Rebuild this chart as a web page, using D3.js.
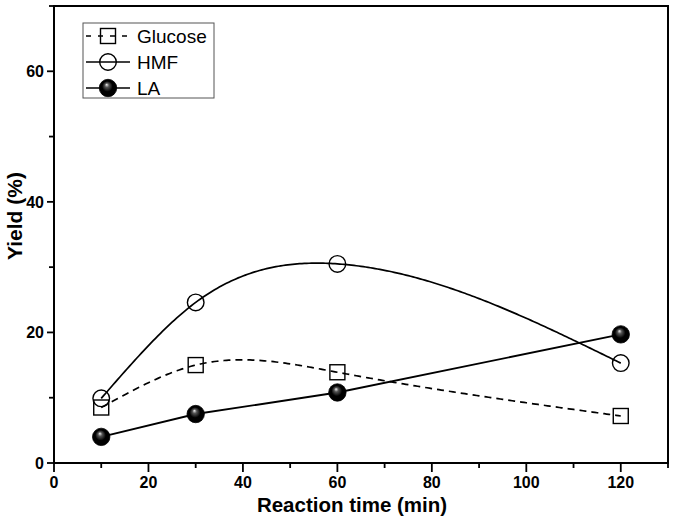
<!DOCTYPE html>
<html><head><meta charset="utf-8">
<script src="https://cdn.jsdelivr.net/npm/d3@7"></script>
<style>body{margin:0;background:#fff}svg{display:block}text{font-family:"Liberation Sans",Arial,sans-serif}</style>
</head><body><svg id="c" width="675" height="521"></svg>
<script>
const times = [10, 30, 60, 120];
const glucose = [8.5, 15.0, 13.9, 7.2];
const hmf = [9.9, 24.6, 30.5, 15.3];
const la = [4.0, 7.5, 10.8, 19.7];
const xTicks = [0, 20, 40, 60, 80, 100, 120];
const yTicks = [0, 20, 40, 60];
const seriesNames = ["Glucose", "HMF", "LA"];

const svg = d3.select("#c");
const x = d3.scaleLinear().domain([0, 130]).range([54, 668]);
const y = d3.scaleLinear().domain([0, 70]).range([463, 6]);

const defs = svg.append("defs");
const g = defs.append("radialGradient").attr("id","sph").attr("cx","0.5").attr("cy","0.5").attr("r","0.55").attr("fx","0.42").attr("fy","0.3");
g.append("stop").attr("offset","0").attr("stop-color","#eee");
g.append("stop").attr("offset","0.22").attr("stop-color","#555");
g.append("stop").attr("offset","0.55").attr("stop-color","#000");
g.append("stop").attr("offset","1").attr("stop-color","#000");

// frame
svg.append("rect").attr("x", x(0)).attr("y", y(70)).attr("width", x(130)-x(0)).attr("height", y(0)-y(70))
  .attr("fill","none").attr("stroke","#000").attr("stroke-width",2);

// x axis ticks
d3.range(0, 131, 10).forEach(v => {
  const major = v % 20 === 0;
  svg.append("line").attr("x1", x(v)).attr("x2", x(v)).attr("y1", y(0)).attr("y2", y(0) + (major ? 9 : 5)).attr("stroke","#000").attr("stroke-width",1.8);
});
xTicks.forEach(v => svg.append("text").attr("x", x(v)).attr("y", 488).attr("text-anchor","middle")
  .attr("font-size",16).attr("font-weight","bold").text(v));
svg.append("text").attr("x", 352).attr("y", 512).attr("text-anchor","middle").attr("font-size",20.5).attr("font-weight","bold").text("Reaction time (min)");

// y axis ticks
d3.range(0, 71, 10).forEach(v => {
  const major = v % 20 === 0;
  svg.append("line").attr("x1", x(0)).attr("x2", x(0) - (major ? 7 : 5)).attr("y1", y(v)).attr("y2", y(v)).attr("stroke","#000").attr("stroke-width",1.8);
});
yTicks.forEach(v => svg.append("text").attr("x", x(0)-10).attr("y", y(v)+6).attr("text-anchor","end")
  .attr("font-size",16).attr("font-weight","bold").text(v));
svg.append("text").attr("transform","translate(22,216) rotate(-90)").attr("text-anchor","middle").attr("font-size",21).attr("font-weight","bold").text("Yield (%)");

// natural cubic spline through the data points (in data space)
function naturalSpline(xs, ys){
  const n = xs.length, h = [], a = [], b = [], c = [], r = [];
  for (let i = 0; i < n-1; i++) h.push(xs[i+1]-xs[i]);
  const M = new Array(n).fill(0);
  // tridiagonal for interior M[1..n-2]
  const m = n - 2;
  for (let i = 1; i <= m; i++){
    a.push(h[i-1]); b.push(2*(h[i-1]+h[i])); c.push(h[i]);
    r.push(6*((ys[i+1]-ys[i])/h[i] - (ys[i]-ys[i-1])/h[i-1]));
  }
  for (let i = 1; i < m; i++){ const w = a[i]/b[i-1]; b[i] -= w*c[i-1]; r[i] -= w*r[i-1]; }
  for (let i = m-1; i >= 0; i--){ M[i+1] = (r[i] - (i < m-1 ? c[i]*M[i+2] : 0)) / b[i]; }
  return t => {
    let i = 0; while (i < n-2 && t > xs[i+1]) i++;
    const hi = h[i], A = (xs[i+1]-t)/hi, B = (t-xs[i])/hi;
    return A*ys[i] + B*ys[i+1] + ((A*A*A-A)*M[i] + (B*B*B-B)*M[i+1])*hi*hi/6;
  };
}
function smoothPts(arr){
  const f = naturalSpline(times, arr);
  const ts = d3.range(times[0], times[times.length-1] + 0.001, 0.5);
  return ts.map(t => [x(t), y(f(t))]);
}
const pts = arr => times.map((t,i)=>[x(t), y(arr[i])]);
const line = d3.line();

svg.append("path").attr("d", line(smoothPts(glucose))).attr("fill","none").attr("stroke","#000").attr("stroke-width",1.7).attr("stroke-dasharray","7,5");
svg.append("path").attr("d", line(smoothPts(hmf))).attr("fill","none").attr("stroke","#000").attr("stroke-width",1.7);
svg.append("path").attr("d", line(pts(la))).attr("fill","none").attr("stroke","#000").attr("stroke-width",1.9);

function square(sel, cx, cy){
  sel.append("rect").attr("x", cx-7.5).attr("y", cy-7.5).attr("width",15).attr("height",15).attr("fill","none").attr("stroke","#000").attr("stroke-width",1.4);
}
function circle(sel, cx, cy){
  sel.append("circle").attr("cx",cx).attr("cy",cy).attr("r",8.3).attr("fill","none").attr("stroke","#000").attr("stroke-width",1.4);
}
function sphere(sel, cx, cy){
  sel.append("circle").attr("cx",cx).attr("cy",cy).attr("r",8.7).attr("fill","url(#sph)").attr("stroke","#000").attr("stroke-width",0.8);
}
pts(glucose).forEach(p => square(svg, p[0], p[1]));
pts(hmf).forEach(p => circle(svg, p[0], p[1]));
pts(la).forEach(p => sphere(svg, p[0], p[1]));

// legend
const lg = svg.append("g");
lg.append("rect").attr("x",83).attr("y",23).attr("width",131).attr("height",75).attr("fill","#fff").attr("stroke","#555").attr("stroke-width",1);
const ly = [36, 62, 88];
const drawers = [square, circle, sphere];
seriesNames.forEach((n,i) => {
  lg.append("line").attr("x1",86).attr("x2",130).attr("y1",ly[i]).attr("y2",ly[i]).attr("stroke","#000").attr("stroke-width",1.7)
    .attr("stroke-dasharray", i===0 ? "5,7" : null);
  drawers[i](lg, 108, ly[i]);
  lg.append("text").attr("x",137).attr("y",ly[i]+7).attr("font-size",19).text(n);
});
</script></body></html>
